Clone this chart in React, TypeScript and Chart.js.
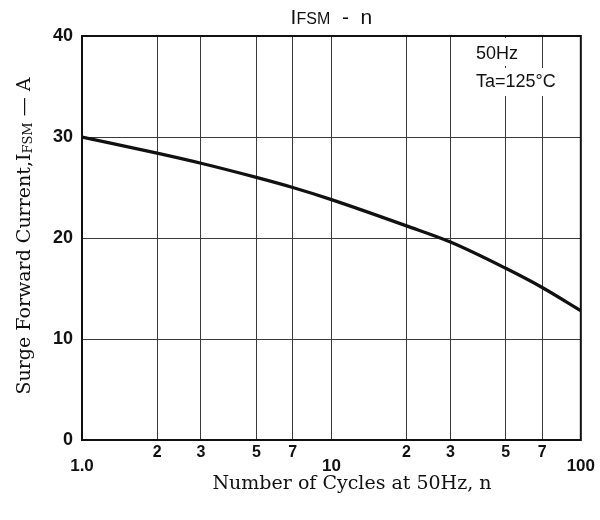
import React, { useEffect, useRef } from "react";
import { Chart, registerables } from "chart.js";

Chart.register(...registerables);

const cycles = [1, 2, 3, 5, 7, 10, 20, 30, 50, 70, 100];
const surgeCurrent = [30, 28.4, 27.4, 26.0, 25.0, 23.8, 21.2, 19.6, 17.0, 15.1, 12.8];
const xTickValues = [1, 2, 3, 5, 7, 10, 20, 30, 50, 70, 100];
const xTickLabels = ["1.0", "2", "3", "5", "7", "10", "2", "3", "5", "7", "100"];
const xMajorTicks = [1, 10, 100];
const yTickValues = [0, 10, 20, 30, 40];
const annotationLines = ["50Hz", "Ta=125°C"];

const overlay = {
  id: "overlay",
  afterDraw(chart: any) {
    const { ctx, chartArea } = chart;
    const { left, top, right, bottom } = chartArea;
    ctx.save();
    // white boxes behind annotation text
    ctx.fillStyle = "#fff";
    ctx.fillRect(470, top + 2, 55, 28);
    ctx.fillRect(470, top + 32, 96, 28);
    // annotation text
    ctx.fillStyle = "#111";
    ctx.font = "18px 'Liberation Sans', Arial, sans-serif";
    ctx.textAlign = "left";
    ctx.textBaseline = "middle";
    ctx.fillText(annotationLines[0], 476, 54);
    ctx.fillText(annotationLines[1], 476, 82);

    // border
    ctx.strokeStyle = "#111";
    ctx.lineWidth = 2;
    ctx.strokeRect(left, top, right - left, bottom - top);

    // chart title I_FSM - n
    ctx.textBaseline = "alphabetic";
    ctx.fillStyle = "#111";
    const cx = (left + right) / 2;
    const parts = [
      { t: "I", f: "21px 'Liberation Sans', Arial, sans-serif" },
      { t: "FSM", f: "16px 'Liberation Sans', Arial, sans-serif" },
      { t: "  -  n", f: "21px 'Liberation Sans', Arial, sans-serif" },
    ];
    let total = 0;
    parts.forEach((p) => {
      ctx.font = p.f;
      total += ctx.measureText(p.t).width;
    });
    let x = cx - total / 2;
    parts.forEach((p) => {
      ctx.font = p.f;
      ctx.fillText(p.t, x, 24);
      x += ctx.measureText(p.t).width;
    });

    // x axis title
    ctx.font = "19px 'DejaVu Serif', serif";
    ctx.textAlign = "center";
    ctx.textBaseline = "middle";
    ctx.fillText("Number of Cycles at 50Hz, n", 352, 484);

    // y axis title rotated with subscript
    ctx.save();
    ctx.translate(25, 236);
    ctx.rotate(-Math.PI / 2);
    const yparts = [
      { t: "Surge Forward Current,I", f: "19px 'DejaVu Serif', serif", dy: 0 },
      { t: "FSM", f: "13px 'DejaVu Serif', serif", dy: 4 },
      { t: " — A", f: "19px 'DejaVu Serif', serif", dy: 0 },
    ];
    let tw = 0;
    yparts.forEach((p) => {
      ctx.font = p.f;
      tw += ctx.measureText(p.t).width;
    });
    let yx = -tw / 2;
    ctx.textAlign = "left";
    ctx.textBaseline = "middle";
    yparts.forEach((p) => {
      ctx.font = p.f;
      ctx.fillText(p.t, yx, p.dy);
      yx += ctx.measureText(p.t).width;
    });
    ctx.restore();
    ctx.restore();
  },
};

export default function App() {
  const ref = useRef<HTMLCanvasElement>(null);
  useEffect(() => {
    if (!ref.current) return;
    const chart = new Chart(ref.current, {
      type: "line",
      data: {
        datasets: [
          {
            data: cycles.map((c, i) => ({ x: c, y: surgeCurrent[i] })),
            borderColor: "#111",
            borderWidth: 3.2,
            pointRadius: 0,
            cubicInterpolationMode: "monotone",
            fill: false,
          },
        ],
      },
      options: {
        responsive: false,
        animation: false,
        layout: { padding: { top: 36, left: 0, right: 19, bottom: 0 } },
        plugins: {
          legend: { display: false },
          tooltip: { enabled: false },
          title: { display: false },
        },
        scales: {
          x: {
            type: "logarithmic",
            min: 1,
            max: 100,
            afterBuildTicks: (scale: any) => {
              scale.ticks = xTickValues.map((v) => ({ value: v, major: false }));
            },
            afterFit: (scale: any) => {
              scale.height = 80;
            },
            border: { display: false },
            grid: {
              drawTicks: false,
              color: (c: any) =>
                c.tick && (c.tick.value === 1 || c.tick.value === 100) ? "rgba(0,0,0,0)" : "#3a3a3a",
              lineWidth: 1,
            },
            ticks: {
              autoSkip: false,
              maxRotation: 0,
              padding: 5,
              color: "#111",
              major: { enabled: false },
              font: (c: any) => {
                const isMajor = c.tick && xMajorTicks.includes(c.tick.value);
                return {
                  family: "'Liberation Sans', Arial, sans-serif",
                  size: isMajor ? 17 : 16,
                  weight: "bold",
                  lineHeight: isMajor ? 0.85 : 1,
                };
              },
              callback: (value: any) => {
                const idx = xTickValues.indexOf(Number(value));
                if (idx < 0) return "";
                const lbl = xTickLabels[idx];
                return xMajorTicks.includes(Number(value)) ? ["", lbl] : [lbl];
              },
            },
          },
          y: {
            type: "linear",
            min: 0,
            max: 40,
            afterBuildTicks: (scale: any) => {
              scale.ticks = yTickValues.map((v) => ({ value: v }));
            },
            afterFit: (scale: any) => {
              scale.width = 82;
            },
            border: { display: false },
            grid: {
              drawTicks: false,
              color: (c: any) =>
                c.tick && (c.tick.value === 0 || c.tick.value === 40) ? "rgba(0,0,0,0)" : "#3a3a3a",
              lineWidth: 1,
            },
            ticks: {
              padding: 9,
              color: "#111",
              font: { family: "'Liberation Sans', Arial, sans-serif", size: 18, weight: "bold" },
            },
          },
        },
      },
      plugins: [overlay],
    } as any);
    return () => chart.destroy();
  }, []);
  return (
    <div style={{ position: "absolute", left: 0, top: 0, width: 600, height: 520, background: "#fff" }}>
      <canvas ref={ref} width={600} height={520} style={{ display: "block" }} />
    </div>
  );
}
